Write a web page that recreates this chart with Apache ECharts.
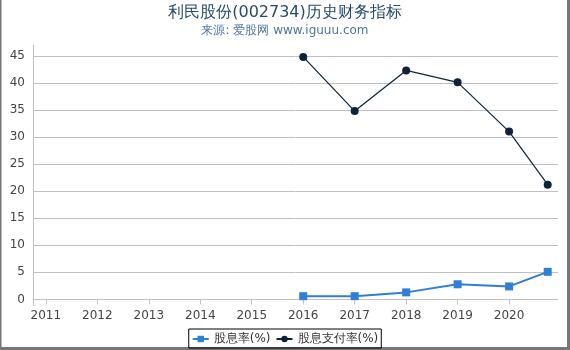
<!DOCTYPE html>
<html>
<head>
<meta charset="utf-8">
<script src="https://cdn.jsdelivr.net/npm/echarts@6/dist/echarts.min.js"></script>
<style>
html,body{margin:0;padding:0;background:#fff;}
#c{width:570px;height:350px;}
</style>
</head>
<body>
<div id="c"></div>
<script>
var years = [2016, 2017, 2018, 2019, 2020, 2020.75];
var dividendYield = [0.6, 0.6, 1.3, 2.8, 2.4, 5.1];
var payoutRatio = [44.8, 34.8, 42.3, 40.1, 31.0, 21.2];
var xTicks = [2011, 2012, 2013, 2014, 2015, 2016, 2017, 2018, 2019, 2020];
var yTicks = [0, 5, 10, 15, 20, 25, 30, 35, 40, 45];
var seriesNames = ['股息率(%)', '股息支付率(%)'];

function pairs(xs, ys){ return xs.map(function(x,i){ return [x, ys[i]]; }); }

var chart = echarts.init(document.getElementById('c'), null, {renderer:'canvas'});
var font = 'DejaVu Sans';
chart.setOption({
  animation: false,
  textStyle: {fontFamily: font},
  title: {
    text: '利民股份(002734)历史财务指标',
    subtext: '来源: 爱股网 www.iguuu.com',
    left: 'center', top: 0, itemGap: 4,
    textStyle: {fontFamily: font, fontSize: 16, fontWeight: 'normal', color: '#274b6d'},
    subtextStyle: {fontFamily: font, fontSize: 12, color: '#4d759e'}
  },
  legend: {
    bottom: 2, left: 'center',
    borderColor: '#000', borderWidth: 1, padding: [4, 3, 3, 3],
    itemWidth: 16, itemHeight: 8, itemGap: 5,
    textStyle: {fontFamily: font, fontSize: 12, color: '#333'},
    data: seriesNames
  },
  grid: {left: 33, right: 12, top: 45, bottom: 45, containLabel: false},
  xAxis: {
    type: 'value', min: 2010.75, max: 2020.95,
    axisLine: {show: true, lineStyle: {color: '#c0c0c0'}},
    axisTick: {show: true, length: 5, lineStyle: {color: '#c0c0c0'}, customValues: xTicks},
    axisLabel: {fontFamily: font, fontSize: 12, color: '#444', margin: 5, customValues: xTicks, formatter: function(v){return String(Math.round(v));}},
    splitLine: {show: false}
  },
  yAxis: {
    type: 'value', min: -1.03, max: 47,
    axisLine: {show: true, lineStyle: {color: '#c0c0c0'}},
    axisTick: {show: false, customValues: yTicks},
    axisLabel: {fontFamily: font, fontSize: 12, color: '#444', margin: 8, customValues: yTicks},
    splitLine: {show: true, lineStyle: {color: '#c0c0c0'}}
  },
  series: [
    {
      name: seriesNames[0], type: 'line', data: pairs(years, dividendYield),
      symbol: 'rect', symbolSize: 8,
      lineStyle: {color: '#2f7ed8', width: 2}, itemStyle: {color: '#2f7ed8'}
    },
    {
      name: seriesNames[1], type: 'line', data: pairs(years, payoutRatio),
      symbol: 'circle', symbolSize: 8,
      lineStyle: {color: '#0d233a', width: 1.2}, itemStyle: {color: '#0d233a'}
    }
  ],
  graphic: [
    {type: 'rect', shape: {x: 0, y: 0, width: 1.5, height: 350}, style: {fill: '#777'}, silent: true},
    {type: 'rect', shape: {x: 567, y: 0, width: 3, height: 350}, style: {fill: '#777'}, silent: true},
    {type: 'rect', shape: {x: 0, y: 347, width: 570, height: 3}, style: {fill: '#777'}, silent: true}
  ]
});
</script>
</body>
</html>
